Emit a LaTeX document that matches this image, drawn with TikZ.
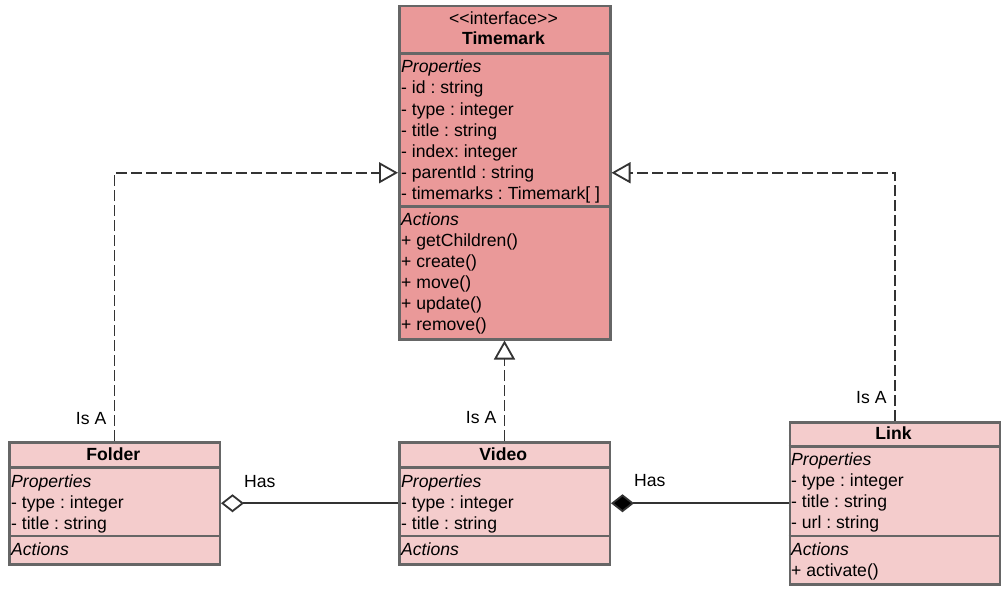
\documentclass[tikz,border=0pt]{standalone}
\usepackage{fontspec}
\setmainfont{Liberation Sans}[Ligatures=TeXOff]
\usetikzlibrary{arrows.meta}
\definecolor{timemarkfill}{HTML}{EA9999}
\definecolor{classfill}{HTML}{F4CCCC}
\definecolor{classborder}{HTML}{666666}
\definecolor{connector}{HTML}{333333}
\tikzset{
  classbox/.style={draw=classborder, line width=2.5pt, anchor=north west, inner sep=0pt},
  separator/.style={draw=classborder, line width=2.5pt},
  member/.style={anchor=base west, inner sep=0pt},
  classtitle/.style={anchor=base, inner sep=0pt},
  linklabel/.style={inner sep=0pt},
  realizes/.style={draw=connector, line width=1.8pt, dash pattern=on 11pt off 4pt,
    -{Triangle[open, fill=white, length=19pt, width=21pt]}},
  aggregation/.style={draw=connector, line width=1.8pt,
    -{Diamond[open, fill=white, length=23pt, width=18pt]}},
  composition/.style={draw=connector, line width=1.8pt,
    -{Diamond[fill=black, length=23pt, width=18pt]}}
}
\begin{document}
\begin{tikzpicture}[x=1pt,y=-1pt]
\useasboundingbox (0,0) rectangle (1007,594);
{\fontsize{17.6}{21}\selectfont\frenchspacing

% Drawing class Timemark
\node [classbox, fill=timemarkfill, minimum width=211pt, minimum height=333pt] (timemark) at (398,5) {};%
\draw [separator] ([yshift=-48.5pt]timemark.north west) -- ([yshift=-48.5pt]timemark.north east);%
\draw [separator] ([yshift=-201.5pt]timemark.north west) -- ([yshift=-201.5pt]timemark.north east);%
\node [classtitle] (tmstereo) at (503.5,25) {<<interface>>};%
\node [classtitle, font=\bfseries] (tmname) at (503.5,45) {Timemark};%
\node [member] (tmprops) at (401,73) {\itshape Properties};%
\node [member] (tmid) at (401,94) {- id : string};%
\node [member] (tmtype) at (401,115) {- type : integer};%
\node [member] (tmtitle) at (401,136) {- title : string};%
\node [member] (tmindex) at (401,157) {- index: integer};%
\node [member] (tmparent) at (401,178) {- parentId : string};%
\node [member] (tmmarks) at (401,199) {- timemarks : Timemark[ ]};%
\node [member] (tmactions) at (401,225) {\itshape Actions};%
\node [member] (tmchildren) at (401,246) {+ getChildren()};%
\node [member] (tmcreate) at (401,267) {+ create()};%
\node [member] (tmmove) at (401,288) {+ move()};%
\node [member] (tmupdate) at (401,309) {+ update()};%
\node [member] (tmremove) at (401,330) {+ remove()};%

% Drawing class Folder
\node [classbox, fill=classfill, minimum width=210.5pt, minimum height=122pt] (folder) at (8,441) {};%
\draw [separator] ([yshift=-26.5pt]folder.north west) -- ([yshift=-26.5pt]folder.north east);%
\draw [separator] ([yshift=-95pt]folder.north west) -- ([yshift=-95pt]folder.north east);%
\node [classtitle, font=\bfseries] (foldername) at (113.25,460) {Folder};%
\node [member] (folderprops) at (11,487) {\itshape Properties};%
\node [member] (foldertype) at (11,508) {- type : integer};%
\node [member] (foldertitle) at (11,529) {- title : string};%
\node [member] (folderactions) at (11,555.5) {\itshape Actions};%

% Drawing class Video
\node [classbox, fill=classfill, minimum width=210.5pt, minimum height=122pt] (video) at (398,441) {};%
\draw [separator] ([yshift=-26.5pt]video.north west) -- ([yshift=-26.5pt]video.north east);%
\draw [separator] ([yshift=-95pt]video.north west) -- ([yshift=-95pt]video.north east);%
\node [classtitle, font=\bfseries] (videoname) at (503.25,460) {Video};%
\node [member] (videoprops) at (401,487) {\itshape Properties};%
\node [member] (videotype) at (401,508) {- type : integer};%
\node [member] (videotitle) at (401,529) {- title : string};%
\node [member] (videoactions) at (401,555.5) {\itshape Actions};%

% Drawing class Link
\node [classbox, fill=classfill, minimum width=210pt, minimum height=162pt] (link) at (788.5,421) {};%
\draw [separator] ([yshift=-25.5pt]link.north west) -- ([yshift=-25.5pt]link.north east);%
\draw [separator] ([yshift=-115pt]link.north west) -- ([yshift=-115pt]link.north east);%
\node [classtitle, font=\bfseries] (linkname) at (893.5,439) {Link};%
\node [member] (linkprops) at (791,465) {\itshape Properties};%
\node [member] (linktype) at (791,486) {- type : integer};%
\node [member] (linktitle) at (791,507) {- title : string};%
\node [member] (linkurl) at (791,528) {- url : string};%
\node [member] (linkactions) at (791,555.5) {\itshape Actions};%
\node [member] (linkactivate) at (791,576.5) {+ activate()};%

% Drawing realizations
\draw [realizes] (folder.north) |- (timemark.west);%
\draw [realizes] (video.north) -- (video.north |- timemark.south);%
\draw [realizes] (link.north) |- (timemark.east);%
\node [linklabel, anchor=base east] (folderisa) at ([xshift=-8pt,yshift=17pt]folder.north) {Is A};%
\node [linklabel, anchor=base east] (videoisa) at ([xshift=-8pt,yshift=18pt]video.north) {Is A};%
\node [linklabel, anchor=base east] (linkisa) at ([xshift=-8pt,yshift=18pt]link.north) {Is A};%

% Drawing aggregation and composition
\draw [aggregation] (video.west) -- (folder.east);%
\draw [composition] (link.west) -- (video.east);%
\node [linklabel, anchor=base west] (folderhas) at ([xshift=23pt,yshift=16pt]folder.east) {Has};%
\node [linklabel, anchor=base west] (videohas) at ([xshift=23pt,yshift=17pt]video.east) {Has};%
}
\end{tikzpicture}
\end{document}
